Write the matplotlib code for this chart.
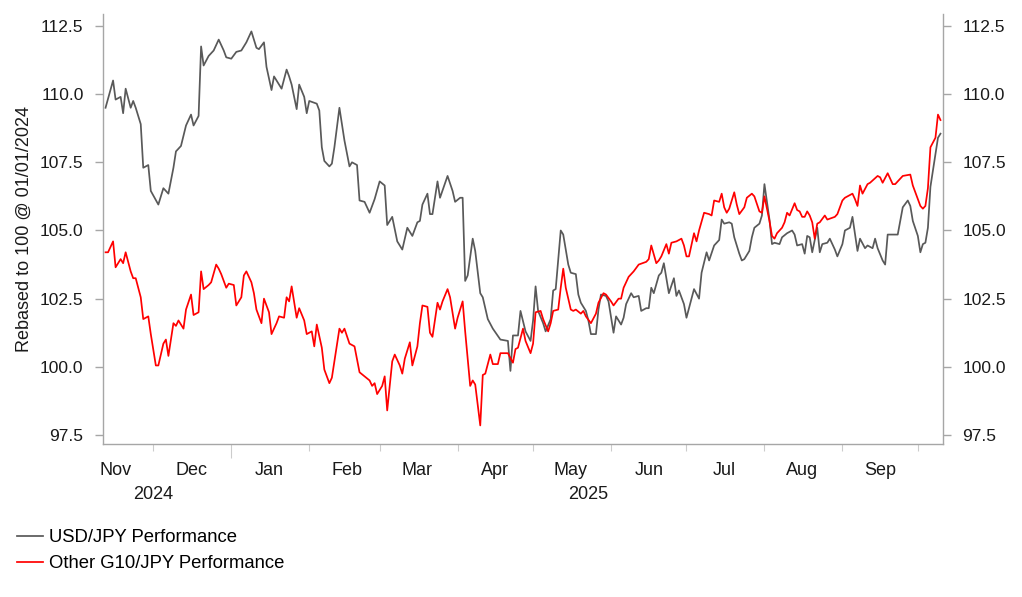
import matplotlib
matplotlib.use("Agg")
import matplotlib.pyplot as plt
import matplotlib.transforms as mtransforms
import pandas as pd

plt.rcParams['font.family'] = ['Liberation Sans', 'DejaVu Sans']

# USD/JPY, rebased to 100 @ 01/01/2024
usd_dates = [
    "2024-11-12", "2024-11-15", "2024-11-16", "2024-11-18", "2024-11-19", "2024-11-20", "2024-11-22",
    "2024-11-23", "2024-11-24", "2024-11-26", "2024-11-27", "2024-11-29", "2024-11-30", "2024-12-03",
    "2024-12-05", "2024-12-07", "2024-12-09", "2024-12-10", "2024-12-12", "2024-12-14", "2024-12-16",
    "2024-12-17", "2024-12-19", "2024-12-20", "2024-12-21", "2024-12-23", "2024-12-25", "2024-12-27",
    "2024-12-29", "2024-12-30", "2025-01-01", "2025-01-03", "2025-01-05", "2025-01-07", "2025-01-09",
    "2025-01-11", "2025-01-12", "2025-01-14", "2025-01-15", "2025-01-17", "2025-01-18", "2025-01-20",
    "2025-01-21", "2025-01-23", "2025-01-24", "2025-01-25", "2025-01-27", "2025-01-28", "2025-01-30",
    "2025-01-31", "2025-02-01", "2025-02-04", "2025-02-05", "2025-02-06", "2025-02-07", "2025-02-09",
    "2025-02-10", "2025-02-11", "2025-02-13", "2025-02-15", "2025-02-17", "2025-02-18", "2025-02-20",
    "2025-02-21", "2025-02-23", "2025-02-25", "2025-02-27", "2025-03-01", "2025-03-03", "2025-03-04",
    "2025-03-06", "2025-03-08", "2025-03-10", "2025-03-12", "2025-03-14", "2025-03-16", "2025-03-17",
    "2025-03-18", "2025-03-20", "2025-03-21", "2025-03-22", "2025-03-24", "2025-03-25", "2025-03-28",
    "2025-03-30", "2025-03-31", "2025-04-02", "2025-04-03", "2025-04-04", "2025-04-05", "2025-04-07",
    "2025-04-08", "2025-04-10", "2025-04-11", "2025-04-13", "2025-04-15", "2025-04-18", "2025-04-21",
    "2025-04-22", "2025-04-23", "2025-04-25", "2025-04-26", "2025-04-28", "2025-04-30", "2025-05-01",
    "2025-05-02", "2025-05-03", "2025-05-05", "2025-05-06", "2025-05-08", "2025-05-09", "2025-05-10",
    "2025-05-12", "2025-05-13", "2025-05-15", "2025-05-16", "2025-05-18", "2025-05-19", "2025-05-20",
    "2025-05-22", "2025-05-23", "2025-05-24", "2025-05-26", "2025-05-27", "2025-05-28", "2025-05-30",
    "2025-05-31", "2025-06-02", "2025-06-03", "2025-06-05", "2025-06-06", "2025-06-07", "2025-06-09",
    "2025-06-10", "2025-06-12", "2025-06-13", "2025-06-15", "2025-06-16", "2025-06-17", "2025-06-18",
    "2025-06-20", "2025-06-21", "2025-06-22", "2025-06-24", "2025-06-26", "2025-06-27", "2025-06-28",
    "2025-06-30", "2025-07-01", "2025-07-03", "2025-07-04", "2025-07-06", "2025-07-07", "2025-07-09",
    "2025-07-10", "2025-07-12", "2025-07-14", "2025-07-15", "2025-07-16", "2025-07-18", "2025-07-19",
    "2025-07-20", "2025-07-22", "2025-07-23", "2025-07-24", "2025-07-26", "2025-07-27", "2025-07-28",
    "2025-07-30", "2025-07-31", "2025-08-01", "2025-08-03", "2025-08-04", "2025-08-05", "2025-08-07",
    "2025-08-08", "2025-08-10", "2025-08-12", "2025-08-13", "2025-08-14", "2025-08-16", "2025-08-17",
    "2025-08-18", "2025-08-19", "2025-08-20", "2025-08-22", "2025-08-23", "2025-08-24", "2025-08-26",
    "2025-08-27", "2025-08-29", "2025-08-30", "2025-09-01", "2025-09-02", "2025-09-04", "2025-09-05",
    "2025-09-07", "2025-09-08", "2025-09-10", "2025-09-11", "2025-09-13", "2025-09-14", "2025-09-15",
    "2025-09-17", "2025-09-18", "2025-09-19", "2025-09-23", "2025-09-24", "2025-09-25", "2025-09-27",
    "2025-09-28", "2025-09-29", "2025-10-01", "2025-10-02", "2025-10-03", "2025-10-04", "2025-10-05",
    "2025-10-06", "2025-10-08", "2025-10-09", "2025-10-10",
]
usd_vals = [
    109.5, 110.5, 109.8, 109.9, 109.3, 110.2, 109.5,
    109.75, 109.5, 108.9, 107.3, 107.4, 106.45, 105.95,
    106.55, 106.35, 107.3, 107.9, 108.1, 108.85, 109.25,
    108.85, 109.2, 111.75, 111.05, 111.4, 111.6, 112.0,
    111.6, 111.35, 111.3, 111.55, 111.6, 111.9, 112.3,
    111.7, 111.65, 111.9, 111.0, 110.15, 110.65, 110.35,
    110.2, 110.9, 110.65, 110.35, 109.45, 110.35, 109.9,
    109.3, 109.75, 109.65, 109.4, 108.05, 107.55, 107.35,
    107.45, 108.05, 109.5, 108.3, 107.35, 107.5, 107.4,
    106.1, 106.05, 105.65, 106.15, 106.8, 106.65, 105.2,
    105.5, 104.6, 104.3, 105.1, 104.8, 105.3, 105.35,
    105.95, 106.35, 105.6, 105.6, 106.8, 106.2, 107.0,
    106.45, 106.05, 106.2, 106.2, 103.15, 103.35, 104.7,
    104.25, 102.7, 102.55, 101.75, 101.4, 101.0, 100.95,
    99.85, 101.15, 101.15, 102.05, 101.3, 100.95, 101.7,
    102.95, 102.05, 101.6, 101.3, 101.75, 102.8, 102.85,
    105.0, 104.85, 103.75, 103.45, 103.4, 102.65, 102.35,
    102.05, 101.7, 101.2, 101.2, 102.1, 102.65, 102.6,
    102.4, 101.25, 101.85, 101.55, 101.8, 102.3, 102.7,
    102.55, 102.6, 102.05, 102.15, 102.15, 102.9, 102.7,
    103.35, 103.45, 103.8, 102.7, 103.25, 102.6, 102.8,
    102.3, 101.8, 102.5, 102.85, 102.5, 103.45, 104.2,
    103.9, 104.45, 104.65, 105.4, 105.25, 105.3, 105.25,
    104.75, 104.15, 103.9, 103.95, 104.25, 104.75, 105.1,
    105.25, 105.55, 106.7, 105.4, 104.5, 104.55, 104.5,
    104.75, 104.9, 105.0, 104.85, 104.45, 104.5, 104.15,
    104.8, 104.75, 104.2, 105.1, 104.2, 104.5, 104.55,
    104.7, 104.3, 104.05, 104.5, 105.0, 105.1, 105.5,
    104.25, 104.7, 104.35, 104.45, 104.35, 104.7, 104.35,
    103.9, 103.75, 104.85, 104.85, 105.35, 105.85, 106.1,
    105.9, 105.35, 104.8, 104.2, 104.5, 104.55, 105.1,
    106.6, 107.8, 108.4, 108.55,
]

# Other G10/JPY, rebased to 100 @ 01/01/2024
g10_dates = [
    "2024-11-12", "2024-11-13", "2024-11-15", "2024-11-16", "2024-11-18", "2024-11-19", "2024-11-20",
    "2024-11-22", "2024-11-23", "2024-11-24", "2024-11-26", "2024-11-27", "2024-11-29", "2024-11-30",
    "2024-12-02", "2024-12-03", "2024-12-05", "2024-12-06", "2024-12-07", "2024-12-09", "2024-12-10",
    "2024-12-11", "2024-12-13", "2024-12-14", "2024-12-16", "2024-12-17", "2024-12-19", "2024-12-20",
    "2024-12-21", "2024-12-23", "2024-12-24", "2024-12-26", "2024-12-27", "2024-12-28", "2024-12-30",
    "2024-12-31", "2025-01-02", "2025-01-03", "2025-01-05", "2025-01-06", "2025-01-07", "2025-01-09",
    "2025-01-10", "2025-01-11", "2025-01-13", "2025-01-14", "2025-01-16", "2025-01-17", "2025-01-19",
    "2025-01-20", "2025-01-22", "2025-01-23", "2025-01-24", "2025-01-25", "2025-01-27", "2025-01-28",
    "2025-01-30", "2025-01-31", "2025-02-02", "2025-02-03", "2025-02-04", "2025-02-06", "2025-02-07",
    "2025-02-09", "2025-02-10", "2025-02-11", "2025-02-13", "2025-02-14", "2025-02-15", "2025-02-17",
    "2025-02-19", "2025-02-21", "2025-02-23", "2025-02-25", "2025-02-26", "2025-02-27", "2025-02-28",
    "2025-03-02", "2025-03-03", "2025-03-04", "2025-03-06", "2025-03-07", "2025-03-09", "2025-03-10",
    "2025-03-11", "2025-03-13", "2025-03-14", "2025-03-16", "2025-03-17", "2025-03-18", "2025-03-20",
    "2025-03-21", "2025-03-22", "2025-03-24", "2025-03-25", "2025-03-26", "2025-03-28", "2025-03-29",
    "2025-03-31", "2025-04-01", "2025-04-03", "2025-04-04", "2025-04-06", "2025-04-07", "2025-04-08",
    "2025-04-10", "2025-04-11", "2025-04-12", "2025-04-14", "2025-04-15", "2025-04-17", "2025-04-18",
    "2025-04-20", "2025-04-21", "2025-04-23", "2025-04-24", "2025-04-25", "2025-04-27", "2025-04-28",
    "2025-04-30", "2025-05-01", "2025-05-02", "2025-05-04", "2025-05-05", "2025-05-07", "2025-05-08",
    "2025-05-09", "2025-05-11", "2025-05-12", "2025-05-13", "2025-05-14", "2025-05-16", "2025-05-17",
    "2025-05-18", "2025-05-20", "2025-05-21", "2025-05-22", "2025-05-24", "2025-05-26", "2025-05-27",
    "2025-05-29", "2025-05-30", "2025-06-01", "2025-06-02", "2025-06-04", "2025-06-05", "2025-06-06",
    "2025-06-08", "2025-06-10", "2025-06-12", "2025-06-15", "2025-06-16", "2025-06-17", "2025-06-19",
    "2025-06-20", "2025-06-21", "2025-06-23", "2025-06-24", "2025-06-25", "2025-06-27", "2025-06-29",
    "2025-06-30", "2025-07-01", "2025-07-02", "2025-07-04", "2025-07-05", "2025-07-06", "2025-07-08",
    "2025-07-10", "2025-07-11", "2025-07-12", "2025-07-14", "2025-07-15", "2025-07-16", "2025-07-17",
    "2025-07-18", "2025-07-20", "2025-07-21", "2025-07-22", "2025-07-24", "2025-07-25", "2025-07-27",
    "2025-07-28", "2025-07-30", "2025-07-31", "2025-08-01", "2025-08-03", "2025-08-04", "2025-08-05",
    "2025-08-06", "2025-08-08", "2025-08-09", "2025-08-10", "2025-08-11", "2025-08-13", "2025-08-14",
    "2025-08-15", "2025-08-16", "2025-08-17", "2025-08-18", "2025-08-19", "2025-08-20", "2025-08-21",
    "2025-08-22", "2025-08-23", "2025-08-25", "2025-08-26", "2025-08-29", "2025-08-30", "2025-09-01",
    "2025-09-02", "2025-09-03", "2025-09-05", "2025-09-06", "2025-09-07", "2025-09-08", "2025-09-09",
    "2025-09-11", "2025-09-12", "2025-09-15", "2025-09-16", "2025-09-17", "2025-09-19", "2025-09-21",
    "2025-09-22", "2025-09-25", "2025-09-28", "2025-09-29", "2025-10-02", "2025-10-03", "2025-10-04",
    "2025-10-05", "2025-10-06", "2025-10-08", "2025-10-09", "2025-10-10",
]
g10_vals = [
    104.2, 104.2, 104.6, 103.65, 103.95, 103.8, 104.2,
    103.5, 103.25, 103.25, 102.55, 101.75, 101.85, 101.2,
    100.05, 100.05, 100.85, 101.0, 100.4, 101.6, 101.5,
    101.7, 101.4, 102.1, 102.65, 101.9, 102.0, 103.5,
    102.85, 103.0, 103.1, 103.75, 103.6, 103.4, 102.9,
    103.05, 103.0, 102.25, 102.55, 103.35, 103.5, 103.1,
    102.7, 102.1, 101.6, 102.5, 102.0, 101.2, 101.6,
    101.85, 101.8, 102.55, 102.4, 102.95, 101.8, 102.15,
    101.7, 101.2, 101.3, 100.75, 101.55, 100.7, 99.9,
    99.4, 99.6, 100.2, 101.4, 101.25, 101.4, 100.85,
    100.75, 99.8, 99.65, 99.5, 99.3, 99.4, 99.0,
    99.3, 99.65, 98.4, 100.2, 100.45, 100.05, 99.75,
    100.3, 100.9, 100.05, 100.75, 101.6, 102.25, 102.2,
    101.25, 101.1, 102.35, 102.1, 102.4, 102.85, 102.55,
    101.4, 101.8, 102.4, 101.3, 99.3, 99.5, 99.35,
    97.85, 99.7, 99.75, 100.45, 100.1, 100.1, 100.5,
    100.5, 100.5, 100.15, 100.65, 100.7, 101.4, 100.95,
    100.5, 100.85, 102.0, 102.05, 101.75, 101.3, 101.6,
    102.05, 102.1, 102.9, 103.6, 102.9, 102.1, 102.05,
    102.1, 101.95, 102.05, 101.85, 101.6, 101.95, 102.35,
    102.7, 102.65, 102.4, 102.25, 102.5, 102.5, 102.9,
    103.3, 103.5, 103.75, 103.85, 103.95, 104.45, 103.8,
    103.9, 104.05, 104.5, 104.15, 104.55, 104.6, 104.7,
    104.45, 104.05, 104.05, 104.9, 104.6, 105.0, 105.65,
    105.6, 105.55, 106.1, 106.05, 106.35, 105.85, 105.65,
    105.8, 106.4, 105.95, 105.6, 105.85, 106.2, 106.35,
    106.25, 105.7, 105.65, 106.25, 105.35, 104.8, 104.7,
    104.9, 105.1, 105.3, 105.65, 105.55, 106.0, 105.75,
    105.7, 105.5, 105.5, 105.7, 105.55, 105.3, 104.7,
    105.25, 105.3, 105.55, 105.4, 105.5, 105.6, 106.1,
    106.2, 106.25, 106.35, 106.15, 105.9, 106.65, 106.35,
    106.7, 106.75, 107.0, 106.95, 106.75, 107.1, 106.7,
    106.7, 107.0, 107.05, 106.65, 105.9, 105.8, 105.9,
    106.55, 108.05, 108.4, 109.25, 109.05,
]

series_labels = ["USD/JPY Performance", "Other G10/JPY Performance"]
y_ticks = [97.5, 100.0, 102.5, 105.0, 107.5, 110.0, 112.5]
month_labels = ["Nov", "Dec", "Jan", "Feb", "Mar", "Apr", "May", "Jun", "Jul", "Aug", "Sep"]
month_label_dates = pd.date_range("2024-11-01", "2025-09-01", freq="MS") + pd.Timedelta(days=15)
month_starts = pd.date_range("2024-12-01", "2025-10-01", freq="MS")
year_labels = ["2024", "2025"]
year_label_dates = pd.to_datetime(["2024-12-01", "2025-05-23"])

fig = plt.figure(figsize=(10.22, 5.97), dpi=100)
ax = fig.add_axes([0.1008, 0.2563, 0.8219, 0.7203])

l1, = ax.plot(pd.to_datetime(usd_dates), usd_vals, color="#595959", lw=1.25)
l2, = ax.plot(pd.to_datetime(g10_dates), g10_vals, color="#ff0000", lw=1.25)

ax.set_xlim(pd.Timestamp("2024-11-11"), pd.Timestamp("2025-10-11"))
ax.set_ylim(97.17, 112.94)

for s in ["left", "right", "bottom"]:
    ax.spines[s].set_color("#a6a6a6")
    ax.spines[s].set_linewidth(1.0)
ax.spines["top"].set_visible(False)

ax.set_yticks(y_ticks)
ax.set_yticklabels([f"{v:.1f}" for v in y_ticks])
ax.tick_params(axis="y", left=True, right=True, labelleft=True, labelright=True,
               length=6, width=1.0, color="#a6a6a6", labelsize=12.5, pad=8,
               labelcolor="#1a1a1a")

ax.set_xticks(month_label_dates)
ax.set_xticklabels(month_labels)
ax.set_xticks(month_starts, minor=True)
ax.tick_params(axis="x", which="major", length=0, pad=13, labelsize=13, labelcolor="#1a1a1a")
ax.tick_params(axis="x", which="minor", length=5, width=0.8, color="#cccccc")
for t, d in zip(ax.xaxis.get_minor_ticks(), month_starts):
    if d.month == 1:
        t.tick1line.set_markersize(10)
        t.tick1line.set_color("#a6a6a6")

trans = mtransforms.blended_transform_factory(ax.transData, ax.transAxes)
for lab, d in zip(year_labels, year_label_dates):
    ax.text(d, -0.118, lab, transform=trans, ha="center", va="center",
            fontsize=13, color="#1a1a1a")

ax.set_ylabel("Rebased to 100 @ 01/01/2024", fontsize=13, color="#1a1a1a")
ax.yaxis.set_label_coords(-0.083, 0.5)

fig.legend([l1, l2], series_labels, loc="upper left", bbox_to_anchor=(0.0166, 0.1136),
           frameon=False, fontsize=13.3, handlelength=1.4, handletextpad=0.35,
           labelspacing=0.5, borderpad=0, borderaxespad=0)

fig.savefig("out.png", dpi=100)
